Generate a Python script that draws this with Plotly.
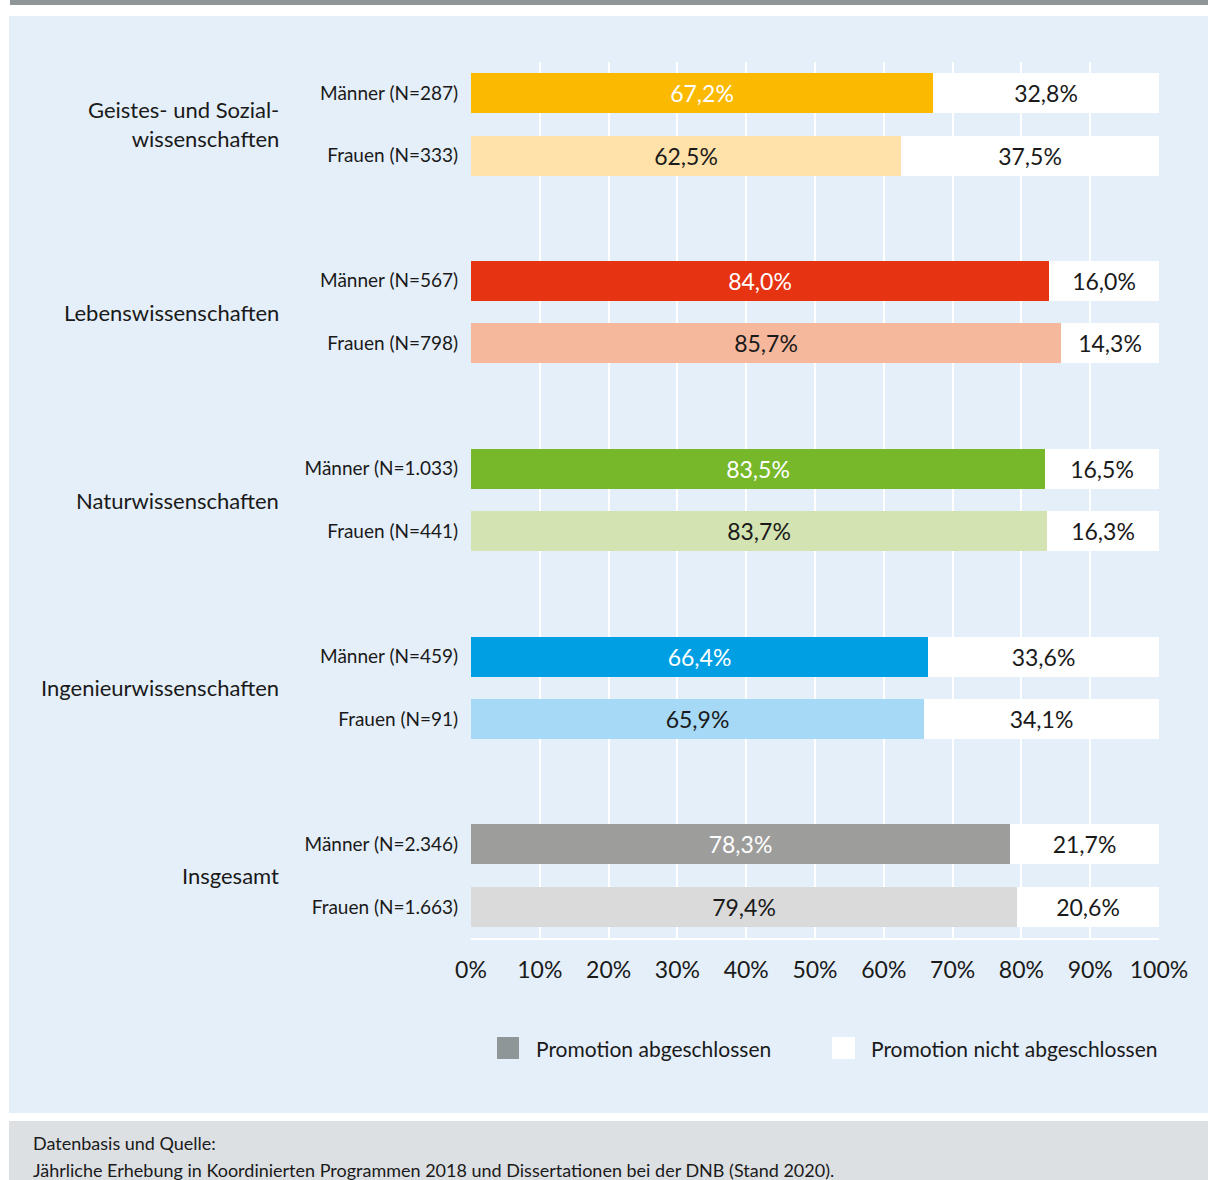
import plotly.graph_objects as go

groups = ["Geistes- und Sozial-<br>wissenschaften", "Lebenswissenschaften",
          "Naturwissenschaften", "Ingenieurwissenschaften", "Insgesamt"]
men_labels = ["Männer (N=287)", "Männer (N=567)", "Männer (N=1.033)", "Männer (N=459)", "Männer (N=2.346)"]
women_labels = ["Frauen (N=333)", "Frauen (N=798)", "Frauen (N=441)", "Frauen (N=91)", "Frauen (N=1.663)"]
men_done = [67.2, 84.0, 83.5, 66.4, 78.3]
men_open = [32.8, 16.0, 16.5, 33.6, 21.7]
women_done = [62.5, 85.7, 83.7, 65.9, 79.4]
women_open = [37.5, 14.3, 16.3, 34.1, 20.6]
x_ticks = [0, 10, 20, 30, 40, 50, 60, 70, 80, 90, 100]

men_colors = ["#fbb900", "#e63312", "#76b82a", "#009fe3", "#9d9d9c"]
women_colors = ["#fee2a9", "#f6b89c", "#d3e3b2", "#a6d9f6", "#dadada"]

W, H = 1208, 1180
L, R, T, B = 471, 1159, 62, 938
FONT = "Lato, Roboto, sans-serif"
TXT = "#1a1a1a"


def fmt(v):
    return f"{v:.1f}".replace(".", ",") + "%"


ys, labels, done, opn, cols, tcols = [], [], [], [], [], []
for g in range(len(groups)):
    for j, (lab, d, o, c, tc) in enumerate([
        (men_labels[g], men_done[g], men_open[g], men_colors[g], "white"),
        (women_labels[g], women_done[g], women_open[g], women_colors[g], TXT),
    ]):
        ys.append(-(3 * g + j))
        labels.append(lab)
        done.append(d)
        opn.append(o)
        cols.append(c)
        tcols.append(tc)

fig = go.Figure()
fig.add_trace(go.Bar(
    y=ys, x=done, orientation="h", width=0.64,
    marker=dict(color=cols, line=dict(width=0)),
    text=[fmt(v) for v in done], textposition="inside", insidetextanchor="middle",
    textangle=0, textfont=dict(color=tcols, size=23, family=FONT),
    name="Promotion abgeschlossen", showlegend=False, hoverinfo="skip",
))
fig.add_trace(go.Bar(
    y=ys, x=opn, orientation="h", width=0.64,
    marker=dict(color="white", line=dict(width=0)),
    text=[fmt(v) for v in opn], textposition="inside", insidetextanchor="middle",
    textangle=0, textfont=dict(color=TXT, size=23, family=FONT),
    name="Promotion nicht abgeschlossen", showlegend=False, hoverinfo="skip",
))


def px_x(p):
    return (p - L) / (R - L)


def px_y(p):
    return (B - p) / (B - T)


shapes = [
    dict(type="rect", xref="paper", yref="paper", x0=px_x(10), x1=px_x(1210), y0=px_y(-2), y1=px_y(5),
         fillcolor="#8f9698", line=dict(width=0), layer="below"),
    dict(type="rect", xref="paper", yref="paper", x0=px_x(9), x1=px_x(1210), y0=px_y(16), y1=px_y(1113),
         fillcolor="#e5eff9", line=dict(width=0), layer="below"),
    dict(type="rect", xref="paper", yref="paper", x0=px_x(9), x1=px_x(1210), y0=px_y(1121), y1=px_y(1185),
         fillcolor="#dde0e3", line=dict(width=0), layer="below"),
    dict(type="rect", xref="paper", yref="paper", x0=px_x(497), x1=px_x(519), y0=px_y(1037), y1=px_y(1059),
         fillcolor="#8f9698", line=dict(width=0)),
    dict(type="rect", xref="paper", yref="paper", x0=px_x(832), x1=px_x(855), y0=px_y(1037), y1=px_y(1059),
         fillcolor="white", line=dict(width=0)),
]

annotations = []
for g, name in enumerate(groups):
    annotations.append(dict(
        x=px_x(281), xref="paper", y=-(3 * g + 0.5), yref="y", text=name,
        showarrow=False, xanchor="right", yanchor="middle", align="right",
        font=dict(size=22, family=FONT, color=TXT),
    ))
annotations += [
    dict(x=px_x(534), xref="paper", y=px_y(1048), yref="paper", text="Promotion abgeschlossen",
         showarrow=False, xanchor="left", yanchor="middle", font=dict(size=21, family=FONT, color=TXT)),
    dict(x=px_x(869), xref="paper", y=px_y(1048), yref="paper", text="Promotion nicht abgeschlossen",
         showarrow=False, xanchor="left", yanchor="middle", font=dict(size=21, family=FONT, color=TXT)),
    dict(x=px_x(31), xref="paper", y=px_y(1143), yref="paper", text="Datenbasis und Quelle:",
         showarrow=False, xanchor="left", yanchor="middle", font=dict(size=18, family=FONT, color=TXT)),
    dict(x=px_x(31), xref="paper", y=px_y(1170), yref="paper",
         text="Jährliche Erhebung in Koordinierten Programmen 2018 und Dissertationen bei der DNB (Stand 2020).",
         showarrow=False, xanchor="left", yanchor="middle", font=dict(size=18, family=FONT, color=TXT)),
]

fig.update_layout(
    width=W, height=H, barmode="stack", bargap=0,
    margin=dict(l=L, r=W - R, t=T, b=H - B, pad=0),
    paper_bgcolor="white", plot_bgcolor="#e5eff9",
    font=dict(family=FONT, color=TXT),
    shapes=shapes, annotations=annotations,
    uniformtext=dict(minsize=22, mode="show"),
    xaxis=dict(range=[0, 100], tickvals=x_ticks, ticktext=[f"{v}%" for v in x_ticks],
               showgrid=True, gridcolor="white", gridwidth=2, zeroline=False,
               showline=True, linecolor="white", linewidth=2,
               ticks="outside", ticklen=10, tickcolor="rgba(0,0,0,0)",
               tickfont=dict(size=23, family=FONT, color=TXT), fixedrange=True),
    yaxis=dict(range=[-13.494, 0.494], tickvals=ys, ticktext=labels,
               showgrid=False, zeroline=False, showline=False,
               ticks="outside", ticklen=8, tickcolor="rgba(0,0,0,0)",
               tickfont=dict(size=19, family=FONT, color=TXT), fixedrange=True),
)

fig.write_html("out.html", config={"displayModeBar": False},
               post_script="document.body.style.margin='0px';")
